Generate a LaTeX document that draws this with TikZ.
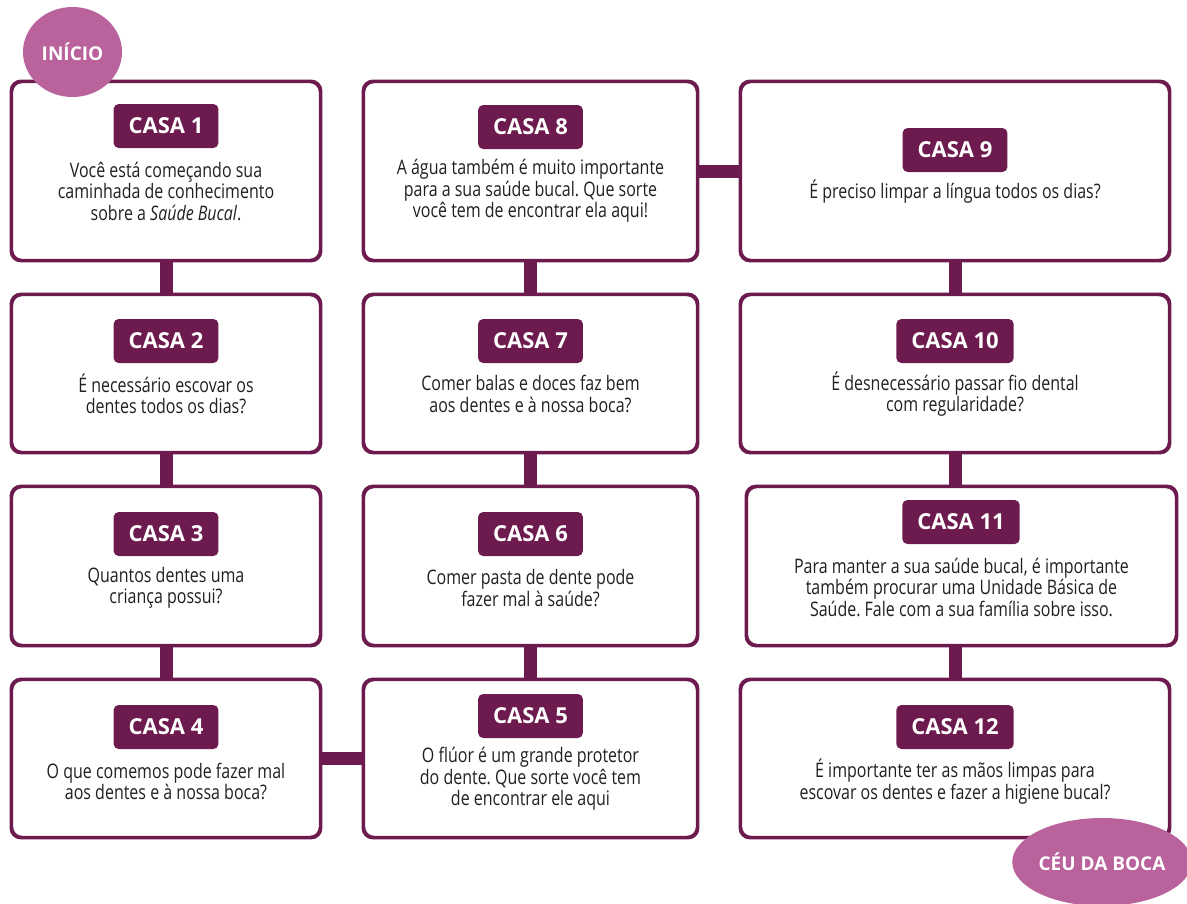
\documentclass[tikz,border=0pt]{standalone}
\usepackage{fontspec}
\setmainfont{Open Sans}
\newfontfamily\bodyfont{Open Sans}[FakeStretch=0.8]
\frenchspacing
\usetikzlibrary{shapes.geometric}
\definecolor{dark}{HTML}{6D1A4F}
\definecolor{pinkc}{HTML}{B9629B}
\definecolor{txt}{HTML}{231F20}
\tikzset{
  box/.style={draw=dark, line width=2.4pt, rounded corners=10pt, fill=white, inner sep=0pt},
  lbl/.style={fill=dark, text=white, rounded corners=5pt, minimum height=44pt, inner xsep=15pt, inner ysep=0pt, font=\bfseries\fontsize{22}{24}\selectfont},
  body/.style={align=center, inner sep=0pt, text=txt, font=\bodyfont\fontsize{20}{21.5}\selectfont},
  conn/.style={draw=dark, line width=13pt},
  endpt/.style={ellipse, fill=pinkc, text=white, inner sep=0pt, font=\bfseries\fontsize{19}{21}\selectfont}
}
\begin{document}
\begin{tikzpicture}[x=1pt,y=-1pt]
\useasboundingbox (0,0) rectangle (1187,903);
% boxes
\node[box, minimum width=308pt, minimum height=178pt] (b1) at (166,171) {};
\node[box, minimum width=308pt, minimum height=157pt] (b2) at (166,373.5) {};
\node[box, minimum width=308pt, minimum height=158pt] (b3) at (166,566) {};
\node[box, minimum width=308pt, minimum height=157pt] (b4) at (166,758.5) {};
\node[box, minimum width=333pt, minimum height=178pt] (b8) at (530.5,171) {};
\node[box, minimum width=333pt, minimum height=157pt] (b7) at (530.5,373.5) {};
\node[box, minimum width=333pt, minimum height=158pt] (b6) at (530.5,566) {};
\node[box, minimum width=333pt, minimum height=157pt] (b5) at (530.5,758.5) {};
\node[box, minimum width=428pt, minimum height=178pt] (b9) at (955,171) {};
\node[box, minimum width=428pt, minimum height=157pt] (b10) at (955,373.5) {};
\node[box, minimum width=429pt, minimum height=158pt] (b11) at (961.5,566) {};
\node[box, minimum width=428pt, minimum height=157pt] (b12) at (955,758.5) {};
% connectors
\draw[conn] (b1.south) -- (b2.north);
\draw[conn] (b2.south) -- (b3.north);
\draw[conn] (b3.south) -- (b4.north);
\draw[conn] (b4.east) -- (b5.west);
\draw[conn] (b5.north) -- (b6.south);
\draw[conn] (b6.north) -- (b7.south);
\draw[conn] (b7.north) -- (b8.south);
\draw[conn] (b8.east) -- (b9.west);
\draw[conn] (b9.south) -- (b10.north);
\draw[conn] (b10.south) -- (b10.south |- b11.north);
\draw[conn] (b11.south -| b12.north) -- (b12.north);
% redraw box borders over connectors
\foreach \b in {b1,b2,b3,b4,b5,b6,b7,b8,b9,b10,b11,b12}{
  \draw[draw=dark, line width=2.4pt, rounded corners=10pt] (\b.north west) rectangle (\b.south east);
}
% labels
\node[lbl] (l1) at (166,126) {CASA 1};
\node[lbl] (l2) at (166,341) {CASA 2};
\node[lbl] (l3) at (166,534) {CASA 3};
\node[lbl] (l4) at (166,727) {CASA 4};
\node[lbl] (l5) at (530.5,716) {CASA 5};
\node[lbl] (l6) at (530.5,534) {CASA 6};
\node[lbl] (l7) at (530.5,341) {CASA 7};
\node[lbl] (l8) at (530.5,127) {CASA 8};
\node[lbl] (l9) at (955,150) {CASA 9};
\node[lbl] (l10) at (955,341) {CASA 10};
\node[lbl] (l11) at (961,522) {CASA 11};
\node[lbl] (l12) at (955,727) {CASA 12};
% texts
\node[body] (t1) at (166,191) {Você está começando sua\\caminhada de conhecimento\\sobre a \textit{Saúde Bucal}.};
\node[body] (t2) at (166,394) {É necessário escovar os\\dentes todos os dias?};
\node[body] (t3) at (166,588) {Quantos dentes uma\\criança possui?};
\node[body] (t4) at (166,781.5) {O que comemos pode fazer mal\\aos dentes e à nossa boca?};
\node[body] (t5) at (530.5,779) {O flúor é um grande protetor\\do dente. Que sorte você tem\\de encontrar ele aqui};
\node[body] (t6) at (530.5,588) {Comer pasta de dente pode\\fazer mal à saúde?};
\node[body] (t7) at (530.5,394) {Comer balas e doces faz bem\\aos dentes e à nossa boca?};
\node[body] (t8) at (530.5,191) {A água também é muito importante\\para a sua saúde bucal. Que sorte\\você tem de encontrar ela aqui!};
\node[body] (t9) at (955,192) {É preciso limpar a língua todos os dias?};
\node[body] (t10) at (955,394) {É desnecessário passar fio dental\\com regularidade?};
\node[body] (t11) at (961.5,587) {Para manter a sua saúde bucal, é importante\\também procurar uma Unidade Básica de\\Saúde. Fale com a sua família sobre isso.};
\node[body] (t12) at (955,781.5) {É importante ter as mãos limpas para\\escovar os dentes e fazer a higiene bucal?};
% start / end
\node[endpt, minimum width=99pt, minimum height=90pt] (ini) at (72.5,52) {INÍCIO};
\node[endpt, minimum width=170pt, minimum height=88pt] (fim) at (1102,862) {CÉU DA BOCA};
\end{tikzpicture}
\end{document}
